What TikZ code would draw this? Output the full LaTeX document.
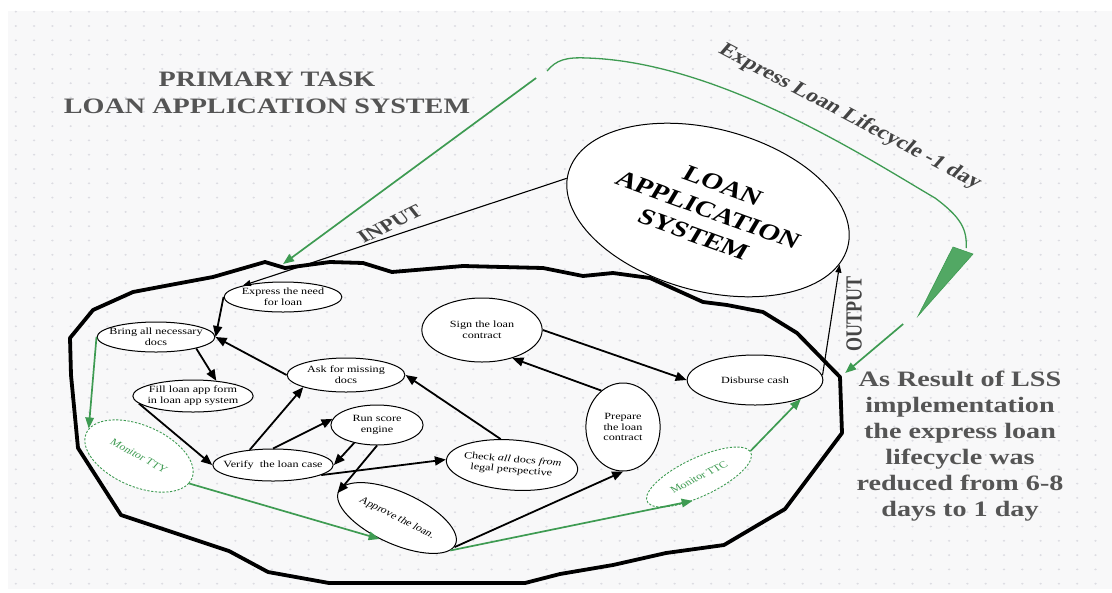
\documentclass[tikz,border=0pt]{standalone}
\usepackage{fontspec}
\setmainfont{Liberation Serif}
\usetikzlibrary{shapes.geometric,arrows.meta}

\definecolor{panelGrey}{HTML}{F8F8F9}
\definecolor{dotGrey}{HTML}{DCDCE2}
\definecolor{titleGrey}{HTML}{555555}
\definecolor{labelGrey}{HTML}{444444}
\definecolor{lssGreen}{HTML}{3E9B52}
\definecolor{lssGreenFill}{HTML}{52A864}

\newcommand\stretchX{1.28}
\newcommand\dotSepX{18.3}
\newcommand\dotSepY{14.3}

\tikzset{
  taskNode/.style={ellipse, draw, fill=white, line width=1pt, inner sep=-6pt, align=center, font=\fontsize{9.5}{10.7}\selectfont},
  monitorNode/.style={ellipse, draw=lssGreen, dash pattern=on 2.2pt off 1.6pt, fill=white, line width=0.9pt, text=lssGreen, inner sep=-6pt, font=\fontsize{9.5}{10.7}\selectfont},
  flowArrow/.style={line width=1.8pt, -{Triangle[length=11pt,width=9pt]}},
  thinArrow/.style={line width=1.1pt, -{Triangle[length=8pt,width=6pt]}},
  greenArrow/.style={lssGreen, line width=1.7pt, -{Triangle[length=11pt,width=8.5pt]}},
  bigLabel/.style={text=titleGrey, align=center},
  sideLabel/.style={text=labelGrey, font=\fontsize{18}{20}\selectfont\bfseries},
}

\begin{document}
\begin{tikzpicture}[x={(0.78125pt,0pt)}, y={(0pt,-1pt)}, xscale=\stretchX, every node/.append style={transform shape}]
  \useasboundingbox (0,0) rectangle (1112,592);
  \fill[panelGrey] (8,11) rectangle (1112,589);
  \foreach \col in {0,...,59}{
    \foreach \row in {0,...,40}{
      \fill[dotGrey] (15.8+\dotSepX*\col,11.7+\dotSepY*\row) circle (1pt);
    }
  }

  % the system
  \node[ellipse, draw, fill=white, line width=1pt, minimum width=232pt, minimum height=158pt, inner sep=0pt, rotate=-25, align=center, font=\fontsize{22.5}{27}\selectfont\bfseries] (las) at (708,210) {LOAN\\APPLICATION\\SYSTEM};

  % the loop round the process
  \draw[line width=3.8pt, line join=round] (70,338) -- (93,310) -- (133,292) -- (170,285) -- (213,277) -- (265,262) -- (285,268) -- (330,262) -- (363,263) -- (392,272) -- (463,266) -- (543,268) -- (583,276) -- (613,273) -- (650,278) -- (703,302) -- (727,305) -- (763,312) -- (797,333) -- (840,377) -- (842,433) -- (785,509) -- (724,545) -- (666,553) -- (613,565) -- (560,574) -- (525,583) -- (329,583) -- (268,572) -- (229,551) -- (121,515) -- (78,448) -- (71,375) -- cycle;

  \node[taskNode, minimum width=92pt, minimum height=30pt] (express) at (283,297) {Express the need\\for loan};
  \node[taskNode, minimum width=92pt, minimum height=30pt] (bring) at (156,337) {Bring all necessary\\docs};
  \node[taskNode, minimum width=94pt, minimum height=32pt] (fill) at (193,396) {Fill loan app form\\in loan app system};
  \node[taskNode, minimum width=94pt, minimum height=32pt] (verify) at (273,465) {Verify\ \ the loan case};
  \node[taskNode, minimum width=92pt, minimum height=34pt] (ask) at (346,375) {Ask for missing\\docs};
  \node[taskNode, minimum width=72pt, minimum height=40pt] (score) at (377,425) {Run score\\engine};
  \node[taskNode, minimum width=103pt, minimum height=50pt, rotate=-6] (check) at (512,465) {Check \textit{all} docs \textit{from}\\legal perspective};
  \node[taskNode, minimum width=106pt, minimum height=49pt, rotate=-33] (approve) at (397,518) {Approve the loan.};
  \node[taskNode, minimum width=58pt, minimum height=88pt] (prepare) at (623,427) {Prepare\\the loan\\contract};
  \node[taskNode, minimum width=94pt, minimum height=64pt] (sign) at (482,330) {Sign the loan\\contract};
  \node[taskNode, minimum width=106pt, minimum height=50pt] (disburse) at (755,380) {Disburse cash};
  \node[monitorNode, minimum width=95pt, minimum height=58pt, rotate=-35] (tty) at (139,456) {Monitor TTY};
  \node[monitorNode, minimum width=95pt, minimum height=36pt, rotate=33] (ttc) at (699,477) {Monitor TTC};

  % texts
  \node[bigLabel, font=\fontsize{22}{27}\selectfont\bfseries] (title) at (267,93) {PRIMARY TASK\\LOAN APPLICATION SYSTEM};
  \node[bigLabel, font=\fontsize{22}{26.1}\selectfont\bfseries] (result) at (960,446) {As Result of LSS\\implementation\\the express loan\\lifecycle was\\reduced from 6-8\\days to 1 day};
  \node[sideLabel, font=\fontsize{19}{22}\selectfont\bfseries, rotate=-34] (lifecycle) at (850,117) {Express Loan Lifecycle -1 day};
  \node[sideLabel, rotate=32] (input) at (390,224) {INPUT};
  \node[sideLabel, rotate=90] (output) at (854,314) {OUTPUT};

  \coordinate (inStart) at (536,78);
  \coordinate (inTip) at (283,264);
  \coordinate (loopStart) at (547,71);
  \coordinate (loopEnd) at (966,248);
  \coordinate (outStart) at (903,324);
  \coordinate (outTip) at (845,373);

  % process flow
  \draw[flowArrow] (express.west) -- (bring.east);
  \draw[flowArrow] (ask.west) -- (bring.east);
  \draw[flowArrow] (bring.-20) -- (fill.40);
  \draw[flowArrow] (fill.190) -- (verify.west);
  \draw[flowArrow] (verify.140) -- (ask.200);
  \draw[flowArrow] (verify.north) -- (score.170);
  \draw[flowArrow] (score.225) -- (verify.east);
  \draw[flowArrow] (score.south) -- (approve.185);
  \draw[flowArrow] (verify.-15) -- (check.west);
  \draw[flowArrow] (check.115) -- (ask.east);
  \draw[flowArrow] (approve.east) -- (prepare.south);
  \draw[flowArrow] (prepare.115) -- (sign.-50);
  \draw[flowArrow] (sign.east) -- (disburse.west);
  \draw[thinArrow] (las.189) -- (express.160);
  \draw[thinArrow] (disburse.5) -- (las.-3);

  % monitoring
  \draw[greenArrow] (bring.west) -- (tty.west);
  \draw[greenArrow] (tty.east) -- (approve.south);
  \draw[greenArrow] (approve.-5) -- (ttc.225);
  \draw[greenArrow] (ttc.east) -- (disburse.-28);
  \draw[greenArrow] (inStart) -- (inTip);
  \draw[lssGreen, line width=1.3pt] (loopStart) .. controls (556,60) and (566,57) .. (587,58) .. controls (720,62) and (870,160) .. (935,198) .. controls (962,218) and (967,230) .. (loopEnd);
  \filldraw[draw=lssGreen, fill=lssGreenFill, line width=0.6pt] (953,247) -- (973,254) -- (918,316) -- cycle;
  \draw[greenArrow] (outStart) -- (outTip);
\end{tikzpicture}
\end{document}
